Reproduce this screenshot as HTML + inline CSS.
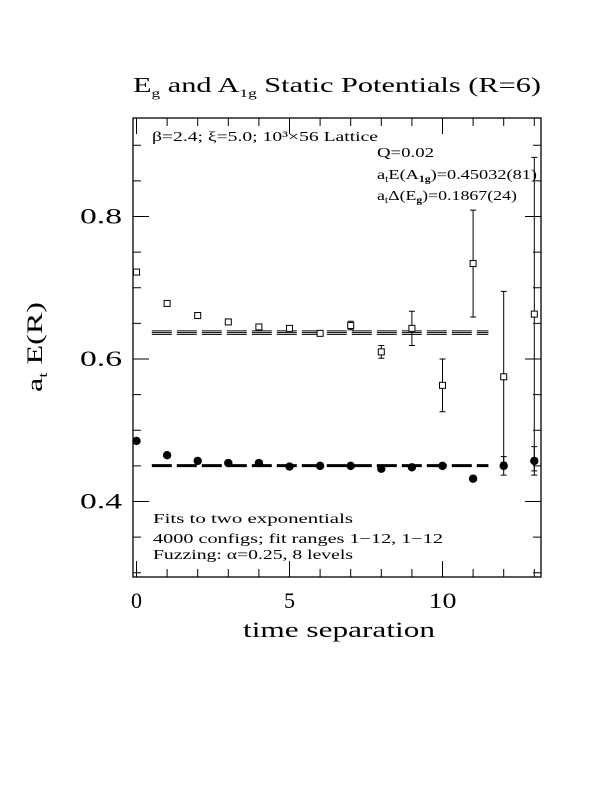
<!DOCTYPE html>
<html><head><meta charset="utf-8"><style>
html,body{margin:0;padding:0;background:#fff;}
svg{display:block;font-family:"Liberation Serif","DejaVu Serif",serif;}
</style></head><body>
<svg id="chart" width="612" height="792" viewBox="0 0 612 792">
<rect x="0" y="0" width="612" height="792" fill="#fff"/>
<text x="133" y="92" font-size="21" textLength="408" lengthAdjust="spacingAndGlyphs">E<tspan font-size="12" dy="5">g</tspan><tspan dy="-5"> and A</tspan><tspan font-size="12" dy="5">1g</tspan><tspan dy="-5"> Static Potentials (R=6)</tspan></text>
<rect x="133" y="118" width="408" height="459" fill="none" stroke="#000" stroke-width="1.3"/>
<g id="ticks"></g>
<g id="fits"></g>
<g id="marks"></g>
<text x="152" y="141" font-size="14" textLength="226" lengthAdjust="spacingAndGlyphs">β=2.4; ξ=5.0; 10³×56 Lattice</text>
<text x="377" y="157" font-size="14" textLength="57" lengthAdjust="spacingAndGlyphs">Q=0.02</text>
<text x="377" y="179" font-size="14" textLength="160" lengthAdjust="spacingAndGlyphs">a<tspan font-size="9" dy="3">t</tspan><tspan dy="-3">E(A</tspan><tspan font-size="9" dy="3" font-weight="bold">1g</tspan><tspan dy="-3">)=0.45032(81)</tspan></text>
<text x="377" y="200" font-size="14" textLength="140" lengthAdjust="spacingAndGlyphs">a<tspan font-size="9" dy="3">t</tspan><tspan dy="-3">Δ(E</tspan><tspan font-size="9" dy="3" font-weight="bold">g</tspan><tspan dy="-3">)=0.1867(24)</tspan></text>
<text x="153" y="523" font-size="14" textLength="200" lengthAdjust="spacingAndGlyphs">Fits to two exponentials</text>
<text x="153" y="543" font-size="14" textLength="290" lengthAdjust="spacingAndGlyphs">4000 configs; fit ranges 1−12, 1−12</text>
<text x="153" y="559" font-size="14" textLength="200" lengthAdjust="spacingAndGlyphs">Fuzzing: α=0.25, 8 levels</text>
<text x="42" y="347" font-size="22" transform="rotate(-90 42 347)" text-anchor="middle" textLength="90" lengthAdjust="spacingAndGlyphs">a<tspan font-size="13" dy="5">t</tspan><tspan dy="-5"> E(R)</tspan></text>
<text x="339" y="637" font-size="22" text-anchor="middle" textLength="192" lengthAdjust="spacingAndGlyphs">time separation</text>
</svg>
<script>
const times=[0,1,2,3,4,5,6,7,8,9,10,11,12,13];
const a1gVals=[0.485,0.465,0.457,0.454,0.454,0.449,0.450,0.450,0.446,0.448,0.450,0.432,0.450,0.457];
const a1gErrs=[0.002,0.002,0.002,0.002,0.002,0.002,0.002,0.002,0.002,0.002,0.002,0.004,0.013,0.02];
const egVals=[0.722,0.678,0.661,0.652,0.645,0.643,0.636,0.647,0.610,0.643,0.563,0.734,0.575,0.663];
const egErrs=[0.003,0.003,0.003,0.003,0.003,0.003,0.003,0.006,0.009,0.024,0.037,0.075,0.12,0.22];
const fitA1g=0.45032, fitEg=0.6370, fitEgErr=0.0025, fitRange=[0.5,11.5];
const xTicks=[0,5,10];
const yTicks=[0.4,0.6,0.8];
const yTickLabels=["0.4","0.6","0.8"];
const NS="http://www.w3.org/2000/svg";
const X=t=>136.5+t*30.6;
const Y=v=>359-(v-0.6)*712.5;
function mk(tag,attrs,parent){const e=document.createElementNS(NS,tag);for(const k in attrs)e.setAttribute(k,attrs[k]);parent.appendChild(e);return e;}
const tg=document.getElementById('ticks');
for(let t=0;t<=13;t++){
  const major=t%5===0, L=major?16:8;
  const l1=mk('line',{x1:X(t),x2:X(t),y1:577,y2:577-L,stroke:'#000'},tg);
  
  
  const l2=mk('line',{x1:X(t),x2:X(t),y1:118,y2:118+L,stroke:'#000'},tg);
  
  
}
for(let i=0;i<=12;i++){
  const v=0.3+i*0.05, L=(i%4===2)?16:8;
  const l1=mk('line',{x1:133,x2:133+L,y1:Y(v),y2:Y(v),stroke:'#000'},tg);
  
  
  const l2=mk('line',{x1:541,x2:541-L,y1:Y(v),y2:Y(v),stroke:'#000'},tg);
  
  
}
xTicks.forEach(t=>{const e=mk('text',{x:X(t),y:608,'font-size':22,'text-anchor':'middle'},tg);e.textContent=String(t);
  if(t>=10){e.setAttribute('textLength','28');e.setAttribute('lengthAdjust','spacingAndGlyphs');}
  
  });
yTicks.forEach((v,i)=>{const e=mk('text',{x:122,y:Y(v)+7,'font-size':22,'text-anchor':'end',textLength:'42',lengthAdjust:'spacingAndGlyphs'},tg);e.textContent=yTickLabels[i];
  
  });
const fg=document.getElementById('fits');
[fitEg-fitEgErr,fitEg,fitEg+fitEgErr].forEach(v=>{
  const l=mk('line',{x1:X(fitRange[0]),x2:X(fitRange[1]),y1:Y(v),y2:Y(v),stroke:'#000','stroke-width':1,'stroke-dasharray':'20 5'},fg);
  
  
});
const fl=mk('line',{x1:X(fitRange[0]),x2:X(fitRange[1]),y1:Y(fitA1g),y2:Y(fitA1g),stroke:'#000','stroke-width':3,'stroke-dasharray':'20 5'},fg);


const mg=document.getElementById('marks');
times.forEach((t,i)=>{
  const x=X(t);
  let y=Y(egVals[i]), e=egErrs[i];
  const eb=mk('path',{d:`M${x},${Y(egVals[i]+e)}V${Y(egVals[i]-e)}M${x-3},${Y(egVals[i]+e)}h6M${x-3},${Y(egVals[i]-e)}h6`,stroke:'#000',fill:'none'},mg);
  
  
  const sq=mk('rect',{x:x-3,y:y-3,width:6,height:6,fill:'#fff',stroke:'#000'},mg);
  
  
  y=Y(a1gVals[i]); e=a1gErrs[i];
  const eb2=mk('path',{d:`M${x},${Y(a1gVals[i]+e)}V${Y(a1gVals[i]-e)}M${x-3},${Y(a1gVals[i]+e)}h6M${x-3},${Y(a1gVals[i]-e)}h6`,stroke:'#000',fill:'none'},mg);
  
  
  const c=mk('circle',{cx:x,cy:y,r:4.2,fill:'#000'},mg);
  
  
});
</script>
</body></html>
